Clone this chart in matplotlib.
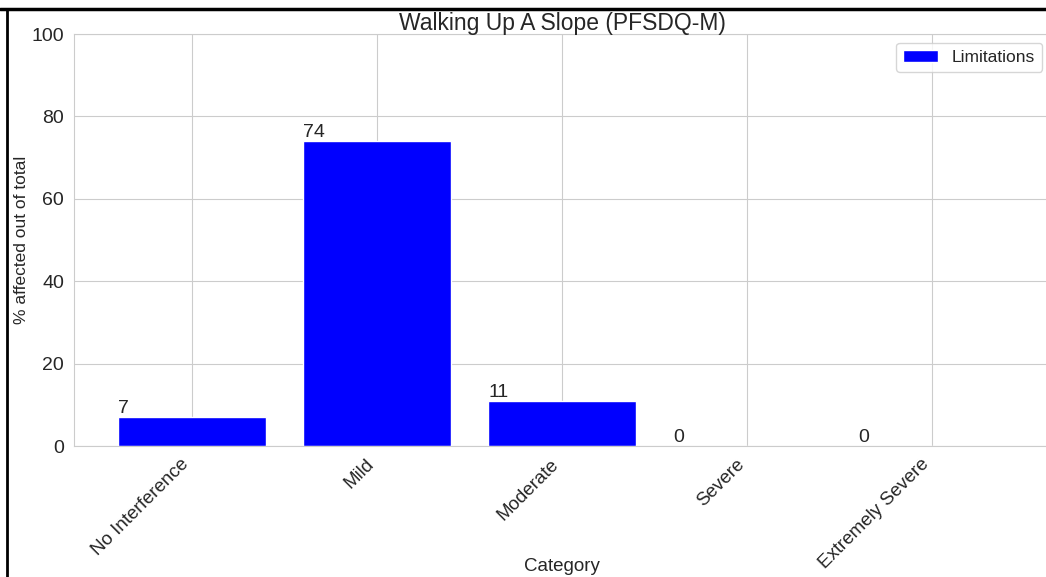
import matplotlib
matplotlib.use("Agg")
import matplotlib.pyplot as plt
import seaborn as sns
from matplotlib.lines import Line2D

# 데이터
categories = ["No Interference", "Mild", "Moderate", "Severe", "Extremely Severe"]
values = [7, 74, 11, 0, 0]

sns.set_style("whitegrid")
plt.rcParams["font.family"] = ["Liberation Sans", "DejaVu Sans"]
plt.rcParams["text.color"] = "#262626"
plt.rcParams["axes.labelcolor"] = "#262626"
plt.rcParams["xtick.color"] = "#262626"
plt.rcParams["ytick.color"] = "#262626"

fig = plt.figure(figsize=(10.46, 5.77), dpi=100)
ax = fig.add_axes([0.0707, 0.227, 0.934, 0.714])

bars = ax.bar(categories, values, width=0.8, color="blue", label="Limitations")
for b, v in zip(bars, values):
    ax.text(b.get_x(), b.get_height(), str(v), fontsize=14, ha="left", va="bottom")

ax.set_ylim(0, 100)
ax.set_title("Walking Up A Slope (PFSDQ-M)", fontsize=16.5, pad=3)
ax.set_xlabel("Category", fontsize=13.5)
ax.set_ylabel("% affected out of total", fontsize=12.5)
ax.xaxis.set_label_coords(0.5, -0.272)
ax.yaxis.set_label_coords(-0.046, 0.5)
ax.tick_params(axis="y", labelsize=14)
ax.tick_params(axis="x", labelsize=13.5)
plt.setp(ax.get_xticklabels(), rotation=45, ha="right")
ax.legend(loc="upper right", fontsize=12.5, frameon=True)

# 스크린샷 테두리
fig.add_artist(Line2D([0.0, 1.0], [0.985, 0.985], transform=fig.transFigure, color="black", lw=2.5))
fig.add_artist(Line2D([0.0068, 0.0068], [0.0, 0.985], transform=fig.transFigure, color="black", lw=2))

fig.savefig("out.png", dpi=100)
